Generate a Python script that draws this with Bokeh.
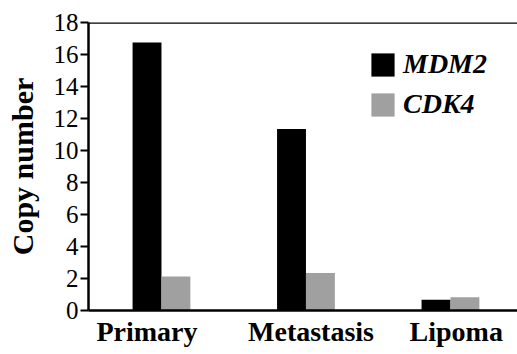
from bokeh.plotting import figure
from bokeh.models import ColumnDataSource, Range1d, FixedTicker, Span, Legend, LegendItem
from bokeh.transform import dodge
from bokeh.embed import file_html
from bokeh.resources import INLINE

categories = ["Primary", "Metastasis", "Lipoma"]
mdm2 = [16.75, 11.35, 0.67]
cdk4 = [2.13, 2.35, 0.83]
y_ticks = [0, 2, 4, 6, 8, 10, 12, 14, 16, 18]

# style: small horizontal nudges of the category labels, as in the original figure
label_nudge = [-0.1, 0.035, 0.04]

src = ColumnDataSource(dict(x=list(range(len(categories))), mdm2=mdm2, cdk4=cdk4))

FONT = "Liberation Serif"

p = figure(width=517, height=354, output_backend="svg", toolbar_location=None,
           x_range=Range1d(-0.505, 2.464), y_range=Range1d(0, 18))
p.min_border_left = 88
p.min_border_right = 0
p.min_border_top = 22
p.min_border_bottom = 44
p.outline_line_color = None
p.grid.visible = False
p.background_fill_color = "white"
p.border_fill_color = "white"

r1 = p.vbar(x=dodge("x", -0.1), top="mdm2", width=0.2, source=src,
            fill_color="black", line_color=None)
r2 = p.vbar(x=dodge("x", 0.1), top="cdk4", width=0.2, source=src,
            fill_color="#a0a0a0", line_color=None)

p.add_layout(Span(location=18, dimension="width", line_color="black", line_width=2.5))

# x axis
label_pos = [i + d for i, d in enumerate(label_nudge)]
xa = p.xaxis[0]
xa.ticker = FixedTicker(ticks=label_pos)
xa.major_label_overrides = {pos: c for pos, c in zip(label_pos, categories)}
xa.major_tick_out = 0
xa.major_tick_in = 0
xa.minor_tick_out = 0
xa.minor_tick_in = 0
xa.axis_line_width = 2.5
xa.axis_line_color = "black"
xa.major_label_text_font = FONT
xa.major_label_text_font_style = "bold"
xa.major_label_text_font_size = "28px"
xa.major_label_text_color = "black"
xa.major_label_standoff = 5

# y axis
ya = p.yaxis[0]
ya.ticker = FixedTicker(ticks=y_ticks)
ya.major_tick_out = 8
ya.major_tick_in = 0
ya.minor_tick_out = 0
ya.minor_tick_in = 0
ya.major_tick_line_width = 2
ya.axis_line_width = 2.5
ya.axis_line_color = "black"
ya.major_label_text_font = FONT
ya.major_label_text_font_size = "25px"
ya.major_label_text_color = "black"
ya.major_label_standoff = 2
ya.axis_label = "Copy number"
ya.axis_label_text_font = FONT
ya.axis_label_text_font_style = "bold"
ya.axis_label_text_font_size = "30px"
ya.axis_label_text_color = "black"
ya.axis_label_standoff = 12

legend = Legend(items=[LegendItem(label="MDM2", renderers=[r1]),
                       LegendItem(label="CDK4", renderers=[r2])],
                location=(280, 190))
legend.border_line_color = None
legend.background_fill_alpha = 0
legend.padding = 0
legend.margin = 0
legend.spacing = 8
legend.glyph_width = 29
legend.glyph_height = 29
legend.label_height = 29
legend.label_standoff = 6
legend.label_text_font = FONT
legend.label_text_font_style = "bold italic"
legend.label_text_font_size = "28px"
legend.label_text_color = "black"
p.add_layout(legend)

open("out.html", "w").write(file_html(p, INLINE))
